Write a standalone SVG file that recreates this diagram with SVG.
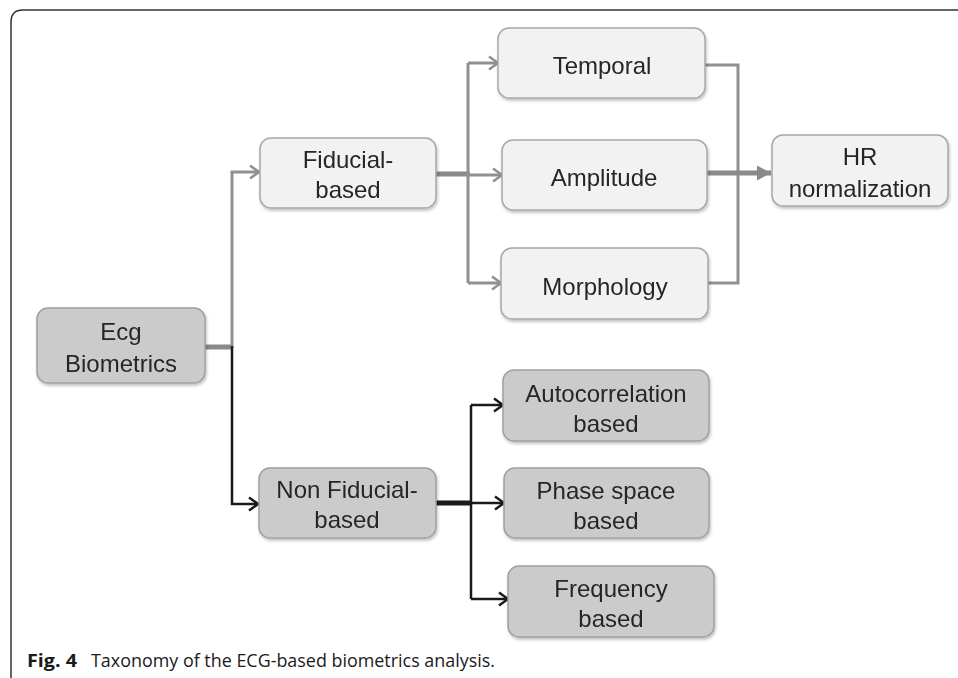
<svg xmlns="http://www.w3.org/2000/svg" width="958" height="678" viewBox="0 0 958 678">
<style>
.lt{fill:#f2f2f2;stroke:#a8a8a8;stroke-width:1.5}
.dk{fill:#cbcbcb;stroke:#a0a0a0;stroke-width:1.5}
.t{font-family:"Liberation Sans",Arial,sans-serif;font-size:24px;fill:#262626;text-anchor:middle}
.g{fill:none;stroke:#909090;stroke-width:3}
.gk{fill:none;stroke:#8a8a8a;stroke-width:5}
.b{fill:none;stroke:#1a1a1a;stroke-width:2.5}
.bk{fill:none;stroke:#1a1a1a;stroke-width:5}
.cap{font-family:"Open Sans","Noto Sans",sans-serif;font-size:18.5px;fill:#1a1a1a}
</style>
<defs>
<filter id="sh" x="-10%" y="-10%" width="120%" height="130%">
<feDropShadow dx="1" dy="2" stdDeviation="1.5" flood-color="#000" flood-opacity="0.25"/>
</filter>
<marker id="ag" markerUnits="userSpaceOnUse" markerWidth="16" markerHeight="16" refX="12" refY="8" orient="auto">
<path d="M3,1.5 L12,8 L3,14.5" fill="none" stroke="#909090" stroke-width="2.5"/>
</marker>
<marker id="ab" markerUnits="userSpaceOnUse" markerWidth="16" markerHeight="16" refX="12" refY="8" orient="auto">
<path d="M3,1.5 L12,8 L3,14.5" fill="none" stroke="#1a1a1a" stroke-width="2.5"/>
</marker>
<marker id="af" markerUnits="userSpaceOnUse" markerWidth="18" markerHeight="18" refX="16" refY="9" orient="auto">
<path d="M2,1.5 L16,9 L2,16.5 Z" fill="#8a8a8a"/>
</marker>
</defs>
<rect width="958" height="678" fill="#fff"/>
<path d="M11,678 V22 Q11,10 23,10 H958" fill="none" stroke="#333" stroke-width="1.5"/>

<g id="connectors">
<path class="gk" d="M205,347 H232"/>
<path class="g" d="M232,348 V172 H259" marker-end="url(#ag)"/>
<path class="b" d="M232,346 V504 H258" marker-end="url(#ab)"/>
<path class="gk" d="M436,174 H470"/>
<path class="g" d="M468,63 V283"/>
<path class="g" d="M468,63 H498" marker-end="url(#ag)"/>
<path class="g" d="M468,175 H502" marker-end="url(#ag)"/>
<path class="g" d="M468,283 H501" marker-end="url(#ag)"/>
<path class="g" d="M705,65 H738 V283 H708"/>
<path class="gk" d="M707,173 H771" marker-end="url(#af)"/>
<path class="bk" d="M436,503 H471"/>
<path class="b" d="M471,405 V599"/>
<path class="b" d="M471,405 H503" marker-end="url(#ab)"/>
<path class="b" d="M471,503 H504" marker-end="url(#ab)"/>
<path class="b" d="M471,599 H508" marker-end="url(#ab)"/>
</g>

<g id="ecg" filter="url(#sh)"><rect class="dk" x="37" y="308" width="168" height="75" rx="11"/>
<text class="t" x="121" y="340">Ecg</text><text class="t" x="121" y="372">Biometrics</text></g>

<g id="fiducial" filter="url(#sh)"><rect class="lt" x="260" y="138" width="176" height="70" rx="11"/>
<text class="t" x="348" y="168">Fiducial-</text><text class="t" x="348" y="198">based</text></g>

<g id="nonfiducial" filter="url(#sh)"><rect class="dk" x="259" y="468" width="177" height="70" rx="11"/>
<text class="t" x="347" y="498">Non Fiducial-</text><text class="t" x="347" y="528">based</text></g>

<g id="temporal" filter="url(#sh)"><rect class="lt" x="498" y="28" width="207" height="70" rx="11"/>
<text class="t" x="602" y="74">Temporal</text></g>

<g id="amplitude" filter="url(#sh)"><rect class="lt" x="502" y="140" width="205" height="70" rx="11"/>
<text class="t" x="604" y="186">Amplitude</text></g>

<g id="morphology" filter="url(#sh)"><rect class="lt" x="501" y="248" width="207" height="71" rx="11"/>
<text class="t" x="605" y="295">Morphology</text></g>

<g id="hr" filter="url(#sh)"><rect class="lt" x="772" y="135" width="176" height="71" rx="11"/>
<text class="t" x="860" y="165">HR</text><text class="t" x="860" y="197">normalization</text></g>

<g id="autocorrelation" filter="url(#sh)"><rect class="dk" x="503" y="370" width="206" height="71" rx="11"/>
<text class="t" x="606" y="402">Autocorrelation</text><text class="t" x="606" y="432">based</text></g>

<g id="phase" filter="url(#sh)"><rect class="dk" x="504" y="468" width="205" height="70" rx="11"/>
<text class="t" x="606" y="499">Phase space</text><text class="t" x="606" y="529">based</text></g>

<g id="frequency" filter="url(#sh)"><rect class="dk" x="508" y="566" width="206" height="71" rx="11"/>
<text class="t" x="611" y="597">Frequency</text><text class="t" x="611" y="627">based</text></g>

<text class="cap" x="27" y="667" font-weight="bold" textLength="50" lengthAdjust="spacingAndGlyphs">Fig. 4</text>
<text class="cap" x="91" y="667" textLength="404" lengthAdjust="spacingAndGlyphs">Taxonomy of the ECG-based biometrics analysis.</text>
</svg>
